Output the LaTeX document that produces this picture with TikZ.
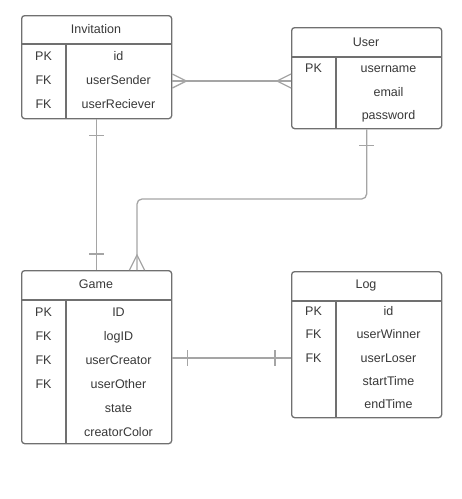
\documentclass[tikz,border=0pt]{standalone}
\usepackage{fontspec}
\setmainfont{Liberation Sans}
\usetikzlibrary{calc}
\definecolor{boxgray}{HTML}{707070}
\definecolor{linkgray}{HTML}{A5A5A5}
\definecolor{textgray}{HTML}{383838}

\begin{document}
\begin{tikzpicture}[x=1pt,y=-1pt,
    tbl/.style={draw=boxgray,line width=1.3pt,rounded corners=3pt,
      inner sep=0pt,anchor=north west},
    sep/.style={draw=boxgray,line width=1.3pt},
    link/.style={draw=linkgray,line width=1.3pt},
    txt/.style={text=textgray,font=\fontsize{12.5}{14}\selectfont,
      inner sep=0pt,anchor=base}]
      \useasboundingbox (0,0) rectangle (462,499);
      % tables
      \node[tbl,minimum width=150pt,minimum height=103pt] (inv) at (21,15) {};
      \node[tbl,minimum width=150pt,minimum height=101pt] (user) at (291,27) {};
      \node[tbl,minimum width=150pt,minimum height=173pt] (game) at (21,270) {};
      \node[tbl,minimum width=150pt,minimum height=146pt] (log) at (291,271) {};
      \draw[sep] (21,44) -- (171,44) (66,44) -- (66,118);
      \draw[sep] (291,57) -- (441,57) (336,57) -- (336,128);
      \draw[sep] (21,300) -- (171,300) (66,300) -- (66,443);
      \draw[sep] (291,301) -- (441,301) (336,301) -- (336,417);
      % titles
      \node[txt] (invtitle) at (96,33) {Invitation};
      \node[txt] (usertitle) at (366,46) {User};
      \node[txt] (gametitle) at (96,288) {Game};
      \node[txt] (logtitle) at (366,288) {Log};
      % rows
      \foreach \k/\v [count=\i] in {PK/id,FK/userSender,FK/userReciever}
        {\node[txt] (invk\i) at (43.5,60+24*\i-24) {\k};
         \node[txt] (invv\i) at (118.5,60+24*\i-24) {\v};}
      \foreach \k/\v [count=\i] in {PK/username,/email,/password}
        {\node[txt] (userk\i) at (313.5,72.5+23.5*\i-23.5) {\k};
         \node[txt] (userv\i) at (388.5,72.5+23.5*\i-23.5) {\v};}
      \foreach \k/\v [count=\i] in {PK/ID,FK/logID,FK/userCreator,FK/userOther,/state,/creatorColor}
        {\node[txt] (gamek\i) at (43.5,316+24*\i-24) {\k};
         \node[txt] (gamev\i) at (118.5,316+24*\i-24) {\v};}
      \foreach \k/\v [count=\i] in {PK/id,FK/userWinner,FK/userLoser,/startTime,/endTime}
        {\node[txt] (logk\i) at (313.5,315.5+23.3*\i-23.3) {\k};
         \node[txt] (logv\i) at (388.5,315.5+23.3*\i-23.3) {\v};}
      % connectors
      \coordinate (invlink) at (231,81);
      \coordinate (loglink) at (231,358);
      \coordinate (turn) at (137,199);
      \draw[link] (invlink -| inv.east) -- (invlink -| user.west);
      \draw[link] ($(invlink -| inv.east)+(0,-7)$) -- ++(14,7) -- ++(-14,7);
      \draw[link] ($(invlink -| user.west)+(0,-7)$) -- ++(-14,7) -- ++(14,7);
      \draw[link] (inv.south) -- (game.north);
      \draw[link] ($(inv.south)+(-7.5,16)$) -- ++(15,0);
      \draw[link] ($(game.north)+(-7.5,-16)$) -- ++(15,0);
      \draw[link,rounded corners=5pt] (user.south) |- (turn) -- (game.north -| turn);
      \draw[link] ($(user.south)+(-7.5,16)$) -- ++(15,0);
      \draw[link] ($(game.north -| turn)+(-7.5,0)$) -- ++(7.5,-15) -- ++(7.5,15);
      \draw[link] (loglink -| game.east) -- (loglink -| log.west);
      \draw[link] ($(loglink -| game.east)+(15,-8)$) -- ++(0,16);
      \draw[link] ($(loglink -| log.west)+(-16,-8)$) -- ++(0,16);
    \end{tikzpicture}
\end{document}
